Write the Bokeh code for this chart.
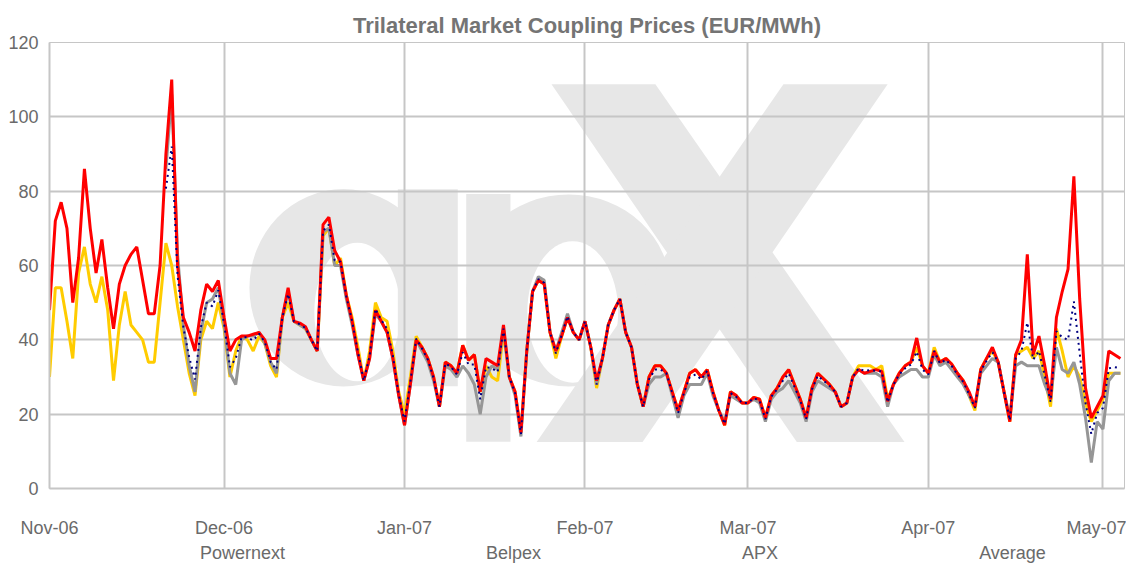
import pandas as pd
from bokeh.plotting import figure
from bokeh.layouts import column
from bokeh.models import Range1d, FixedTicker, Legend, LegendItem
from bokeh.embed import file_html
from bokeh.resources import INLINE

# ---------------- data (daily prices, EUR/MWh) ----------------
start_date = "2006-11-01"

apx = [
    48, 72, 77, 70, 50, 62, 86, 70, 58, 67,
    54, 43, 55, 60, 63, 65, 56, 47, 47, 60,
    90, 110, 60, 46, 42, 37, 48, 55, 53, 56,
    46, 37, 40, 41, 41, 41.5, 42, 40, 35, 35,
    46, 54, 45, 44.5, 43.5, 40, 37, 71, 73, 64,
    61, 52, 45, 36, 29, 35, 48, 45, 42, 35,
    25, 17, 28, 40, 38, 35, 30, 22, 34, 33,
    31, 38.5, 34.5, 36, 26, 35, 34, 33, 44, 30,
    26, 15, 37, 53, 56, 55, 42, 37, 41, 46,
    42, 40, 45, 38, 29, 35, 44, 48, 51, 42,
    38, 28, 22, 30, 33, 33, 31, 26, 21, 26,
    31, 32, 30, 32, 26, 21, 17, 26, 25, 23,
    23, 24.5, 24, 19, 25, 27, 30, 32, 28, 24,
    19, 27, 31, 29.5, 28, 26, 22, 23, 30, 32,
    31, 31.5, 32, 31.5, 23.5, 28, 31, 33, 34, 40.5,
    33, 31, 37, 34, 35, 33.5, 31, 29, 26, 22,
    32, 35, 38, 34, 26, 18, 36, 40, 63, 36,
    41, 33, 24, 46, 53, 59, 84, 51, 27, 19,
    22, 25, 37, 36, 35,
]

powernext = [
    30, 54, 54, 45, 35, 58, 65, 55, 50, 57,
    48, 29, 44, 53, 44, 42, 40, 34, 34, 50,
    66, 60, 49, 40, 31, 25, 40, 45, 43, 50,
    43, 30, 37, 41, 40, 37, 41, 39, 33, 30,
    46, 50, 45, 44, 43, 40, 37, 68, 70, 60,
    62, 52, 46, 38, 29, 37, 50, 46, 45, 37,
    26, 20, 30, 41, 38, 35, 30, 22, 34, 33,
    31, 38.5, 34.5, 36, 26, 33, 30, 29, 42, 30,
    26, 15, 37, 53, 56, 55, 42, 35, 41, 46,
    42, 40, 45, 38, 27, 35, 44, 48, 51, 42,
    38, 28, 22, 30, 33, 33, 31, 26, 21, 26,
    31, 32, 30, 32, 26, 21, 17, 26, 25, 23,
    23, 24.5, 24, 19, 25, 27, 30, 32, 28, 24,
    19, 27, 31, 29.5, 28, 26, 22, 23, 30, 33,
    33, 33, 32, 33, 24, 28, 31, 33, 34, 38,
    33, 31, 38, 34, 35, 33.5, 31, 29, 25, 21,
    32, 35, 37, 34, 26, 18, 36, 37, 38, 35,
    37, 30, 22, 43, 37, 30, 33, 30, 23, 18,
    21, 24, 31, 31, 31,
]

belpex = [None] * 20 + [
    86, 106, 63, 44, 33, 26, 42, 50, 51, 54,
    44, 31, 28, 40, 41, 41, 42, 39, 34, 31,
    46, 53, 45, 44, 43, 40, 37, 69, 70, 60,
    60, 51, 44, 36, 29, 35, 47, 45, 42, 35,
    25, 17, 28, 40, 37, 34, 29, 22, 33, 32,
    30, 33, 31, 28, 20, 30, 33, 32, 43, 30,
    25, 14, 37, 53, 57, 56, 42, 37, 42, 47,
    42, 40, 45, 38, 28, 35, 44, 48, 51, 42,
    38, 28, 22, 28, 30, 30, 31, 25, 19, 25,
    28, 28, 28, 31, 25, 21, 18, 25, 24, 23,
    23, 24, 23, 18, 24, 26, 27, 29, 26, 23,
    18, 26, 29, 28, 27, 26, 22, 23, 30, 32,
    31, 31, 31, 30, 22, 28, 30, 31, 32, 32,
    30, 30, 36, 33, 34, 32, 30, 28, 25, 22,
    31, 33, 35, 34, 26, 19, 33, 34, 33, 33,
    33, 28, 24, 38, 32, 31, 34, 28, 19, 7,
    18, 16, 29, 31, 31,
]

month_ticks = ["2006-11-01", "2006-12-01", "2007-01-01", "2007-02-01",
               "2007-03-01", "2007-04-01", "2007-05-01"]
month_labels = ["Nov-06", "Dec-06", "Jan-07", "Feb-07", "Mar-07", "Apr-07", "May-07"]
y_ticks = [0, 20, 40, 60, 80, 100, 120]

series_names = ["Powernext", "Belpex", "APX", "Average"]
series_colors = ["#FFCC00", "#969696", "#FF0000", "#000080"]

# decorative background logo ("apx" watermark), in plot units (days, EUR/MWh)
logo_bowls = {"cx": [50.5, 89.2], "cy": [54.0, 53.3], "w": [32.3, 35.1], "h": [53.1, 51.7]}
logo_holes = {"cx": [52.9, 89.9], "cy": [47.5, 47.5], "w": [14.8, 15.6], "h": [37.3, 38.1]}
logo_stems = {"cx": [65.0, 75.4], "cy": [54.0, 45.9], "w": [10.3, 7.6], "h": [53.0, 66.7]}
logo_x_arms = {"xs": [[86.25, 104.1, 146.9, 128.4], [126.1, 144.0, 101.9, 83.7]],
               "ys": [[108.8, 108.8, 12.5, 12.5], [108.8, 108.8, 12.5, 12.5]]}

# ---------------- derived ----------------
n = len(apx)
t0 = pd.Timestamp(start_date)
day_x = [float(i) for i in range(n)]  # day number counted from start_date
tick_days = [int((pd.Timestamp(t) - t0).days) for t in month_ticks]

pnx_arr = [float(v) for v in powernext]
bel_arr = [float("nan") if v is None else float(v) for v in belpex]
apx_arr = [float(v) for v in apx]
avg_arr = [(a + b + c) / 3.0 for a, b, c in zip(pnx_arr, bel_arr, apx_arr)]

FONT = "Liberation Sans"
TXT = "#6a6a6a"
GRID = "#c6c6c6"
WM = "#e7e7e7"

p = figure(width=1126, height=540,
           x_range=Range1d(0, 184.7), y_range=Range1d(0, 120),
           output_backend="svg", toolbar_location=None,
           min_border_left=49, min_border_right=2, min_border_top=42,
           min_border_bottom=48, background_fill_color="white",
           border_fill_color="white", outline_line_color=GRID)

p.title.text = "Trilateral Market Coupling Prices (EUR/MWh)"
p.title.text_font = FONT
p.title.text_font_size = "22px"
p.title.text_font_style = "bold"
p.title.text_color = "#747474"
p.title.align = "center"

# watermark shapes (drawn beneath the grid)
p.ellipse(logo_bowls["cx"], logo_bowls["cy"], width=logo_bowls["w"], height=logo_bowls["h"],
          fill_color=WM, line_color=None, level="image")
p.ellipse(logo_holes["cx"], logo_holes["cy"], width=logo_holes["w"], height=logo_holes["h"],
          fill_color="white", line_color=None, level="image")
p.rect(logo_stems["cx"], logo_stems["cy"], width=logo_stems["w"], height=logo_stems["h"],
       fill_color=WM, line_color=None, level="image")
p.patches(logo_x_arms["xs"], logo_x_arms["ys"], fill_color=WM, line_color=None, level="image")

# axes
p.xaxis.ticker = FixedTicker(ticks=tick_days)
p.xaxis.major_label_overrides = {d: lab for d, lab in zip(tick_days, month_labels)}
p.yaxis.ticker = FixedTicker(ticks=y_ticks)
for ax in (p.xaxis, p.yaxis):
    ax.axis_line_color = GRID
    ax.axis_line_width = 2
    ax.major_tick_line_color = None
    ax.minor_tick_line_color = None
    ax.major_label_text_font = FONT
    ax.major_label_text_font_size = "18px"
    ax.major_label_text_color = TXT
p.xaxis.major_label_standoff = 23
p.yaxis.major_label_standoff = 5
p.xgrid.ticker = FixedTicker(ticks=tick_days)
p.ygrid.ticker = FixedTicker(ticks=y_ticks)
for g in (p.xgrid, p.ygrid):
    g.grid_line_color = GRID
    g.grid_line_width = 2

line_styles = [dict(line_width=3), dict(line_width=3), dict(line_width=3),
               dict(line_width=2, line_dash="2 4")]
series_values = [pnx_arr, bel_arr, apx_arr, avg_arr]
for vals, col, st in zip(series_values, series_colors, line_styles):
    p.line(day_x, vals, line_color=col, **st)

# legend strip underneath the chart (a separate, axis-less figure)
leg_fig = figure(width=1126, height=25, x_range=Range1d(0, 1), y_range=Range1d(0, 1),
                 output_backend="svg", toolbar_location=None,
                 x_axis_location=None, y_axis_location=None,
                 min_border_left=0, min_border_right=0, min_border_top=0,
                 min_border_bottom=0, outline_line_color=None,
                 background_fill_color="white", border_fill_color="white")
leg_fig.xgrid.visible = False
leg_fig.ygrid.visible = False
leg_items = []
for nm, col, st in zip(series_names, series_colors, line_styles):
    r = leg_fig.line([], [], line_color=col, **st)
    leg_items.append(LegendItem(label=nm, renderers=[r]))
legend = Legend(items=leg_items, orientation="horizontal", location=(87, 1),
                glyph_width=62, glyph_height=20, label_standoff=2, spacing=137,
                label_text_font=FONT, label_text_font_size="18px",
                label_text_color=TXT, border_line_color=None,
                background_fill_alpha=0, padding=0, margin=0)
leg_fig.add_layout(legend)

layout = column(p, leg_fig, spacing=0)
open("out.html", "w").write(file_html(layout, INLINE))
